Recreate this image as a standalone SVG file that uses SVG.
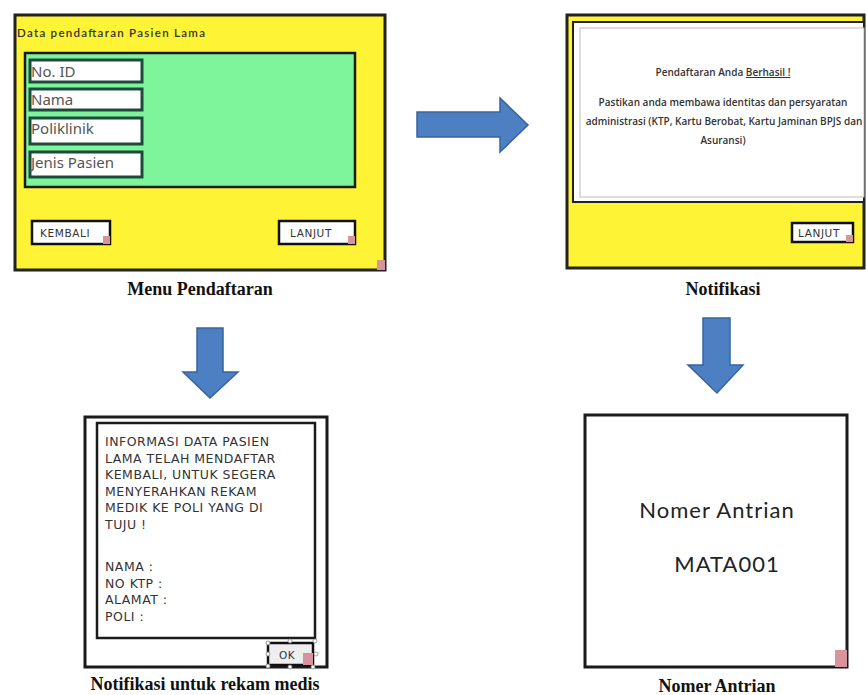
<svg xmlns="http://www.w3.org/2000/svg" width="867" height="695" viewBox="0 0 867 695">
<style>
.frame{fill:#fff336;stroke:#222;stroke-width:3}
.field{fill:#fff;stroke:#1e4a3c;stroke-width:3}
.ftxt{font-family:"Noto Sans","DejaVu Sans",sans-serif;font-size:15px;fill:#555}
.btn{fill:#fff;stroke:#111;stroke-width:2.5}
.btxt{font-family:"DejaVu Sans",sans-serif;font-size:10.5px;fill:#333;letter-spacing:0.6px}
.cap{font-family:"Liberation Serif",serif;font-weight:bold;font-size:18px;fill:#111;text-anchor:middle}
.arrow{fill:#4d7fc3;stroke:#36649f;stroke-width:1.5}
.grip{fill:#d7949c}
.ntxt{font-family:"Open Sans","Liberation Sans",sans-serif;font-size:10px;font-weight:600;fill:#333;text-anchor:middle}
.itxt{font-family:"DejaVu Sans",sans-serif;font-size:12.5px;fill:#333;letter-spacing:0.5px}
.big{font-family:"Lato","Noto Sans",sans-serif;font-size:22px;fill:#222;letter-spacing:1px}
.handle{fill:#fff;stroke:#888;stroke-width:0.8}
</style>
<rect width="867" height="695" fill="#fff"/>

<g id="menu-pendaftaran">
  <rect class="frame" x="15" y="15" width="370" height="255"/>
  <text x="17" y="37" font-family="Lato,'Noto Sans',sans-serif" font-size="11.5" font-weight="600" fill="#333" textLength="188">Data pendaftaran Pasien Lama</text>
  <rect x="25" y="53" width="330" height="134" fill="#7ef59b" stroke="#1a1a1a" stroke-width="2.5"/>
  <rect class="field" x="30" y="60" width="112" height="22"/>
  <text class="ftxt" x="31" y="77">No. ID</text>
  <rect class="field" x="30" y="89" width="112" height="21"/>
  <text class="ftxt" x="31" y="105">Nama</text>
  <rect class="field" x="30" y="118" width="112" height="26"/>
  <text class="ftxt" x="31" y="134">Poliklinik</text>
  <rect class="field" x="30" y="152" width="112" height="25"/>
  <text class="ftxt" x="31" y="168">Jenis Pasien</text>
  <rect class="btn" x="32" y="221" width="78" height="23"/>
  <text class="btxt" x="40" y="237">KEMBALI</text>
  <rect class="grip" x="103" y="236" width="7" height="8"/>
  <rect class="btn" x="279" y="221" width="76" height="23"/>
  <text class="btxt" x="290" y="237">LANJUT</text>
  <rect class="grip" x="348" y="236" width="7" height="8"/>
  <rect class="grip" x="377" y="260" width="8" height="10"/>
  <text class="cap" x="200" y="295">Menu Pendaftaran</text>
</g>

<g id="notifikasi">
  <rect class="frame" x="567" y="15" width="297" height="253"/>
  <rect x="573" y="22" width="291" height="180" fill="#fff" stroke="#222" stroke-width="2"/>
  <rect x="580" y="28" width="284" height="169" fill="#fff" stroke="#bbb" stroke-width="1"/>
  <text class="ntxt" x="723" y="76">Pendaftaran Anda <tspan text-decoration="underline">Berhasil !</tspan></text>
  <text class="ntxt" x="723" y="106">Pastikan anda membawa identitas dan persyaratan</text>
  <text class="ntxt" x="724" y="125">administrasi (KTP, Kartu Berobat, Kartu Jaminan BPJS dan</text>
  <text class="ntxt" x="723" y="144">Asuransi)</text>
  <rect class="btn" x="792" y="223" width="61" height="19"/>
  <text class="btxt" x="798" y="237">LANJUT</text>
  <rect class="grip" x="846" y="235" width="7" height="7"/>
  <text class="cap" x="723" y="295">Notifikasi</text>
</g>

<g id="notifikasi-rekam-medis">
  <rect x="85" y="417" width="242" height="250" fill="#fff" stroke="#1a1a1a" stroke-width="3"/>
  <rect x="97" y="423" width="218" height="215" fill="#fff" stroke="#1a1a1a" stroke-width="2.5"/>
  <text class="itxt" x="105" y="446">INFORMASI DATA PASIEN</text>
  <text class="itxt" x="105" y="463">LAMA TELAH MENDAFTAR</text>
  <text class="itxt" x="105" y="479">KEMBALI, UNTUK SEGERA</text>
  <text class="itxt" x="105" y="496">MENYERAHKAN REKAM</text>
  <text class="itxt" x="105" y="512">MEDIK KE POLI YANG DI</text>
  <text class="itxt" x="105" y="529">TUJU !</text>
  <text class="itxt" x="105" y="571">NAMA :</text>
  <text class="itxt" x="105" y="588">NO KTP :</text>
  <text class="itxt" x="105" y="604">ALAMAT :</text>
  <text class="itxt" x="105" y="621">POLI :</text>
  <rect x="268" y="643" width="45" height="22" fill="#eee" stroke="#111" stroke-width="2.5"/>
  <text class="btxt" x="279" y="659" font-size="12">OK</text>
  <rect class="grip" x="303" y="653" width="10" height="12"/>
  <circle class="handle" cx="268" cy="643" r="2"/>
  <circle class="handle" cx="290" cy="641" r="2"/>
  <circle class="handle" cx="315" cy="641" r="2"/>
  <circle class="handle" cx="268" cy="654" r="2"/>
  <circle class="handle" cx="316" cy="654" r="2"/>
  <circle class="handle" cx="268" cy="666" r="2"/>
  <circle class="handle" cx="290" cy="667" r="2"/>
  <circle class="handle" cx="313" cy="667" r="2"/>
  <text class="cap" x="205" y="690">Notifikasi untuk rekam medis</text>
</g>

<g id="nomer-antrian">
  <rect x="585" y="415" width="262" height="252" fill="#fff" stroke="#1a1a1a" stroke-width="3"/>
  <text class="big" x="717" y="518" text-anchor="middle">Nomer Antrian</text>
  <text class="big" x="727" y="572" text-anchor="middle">MATA001</text>
  <rect class="grip" x="835" y="650" width="12" height="17"/>
  <text class="cap" x="717" y="692">Nomer Antrian</text>
</g>

<g id="connectors">
  <polygon class="arrow" points="417,112 500,112 500,98 528,125 500,152 500,137 417,137"/>
  <polygon class="arrow" points="197,328 223,328 223,372 238,372 210,398 183,372 197,372"/>
  <polygon class="arrow" points="703,318 730,318 730,365 743,365 717,393 688,365 703,365"/>
</g>
</svg>
